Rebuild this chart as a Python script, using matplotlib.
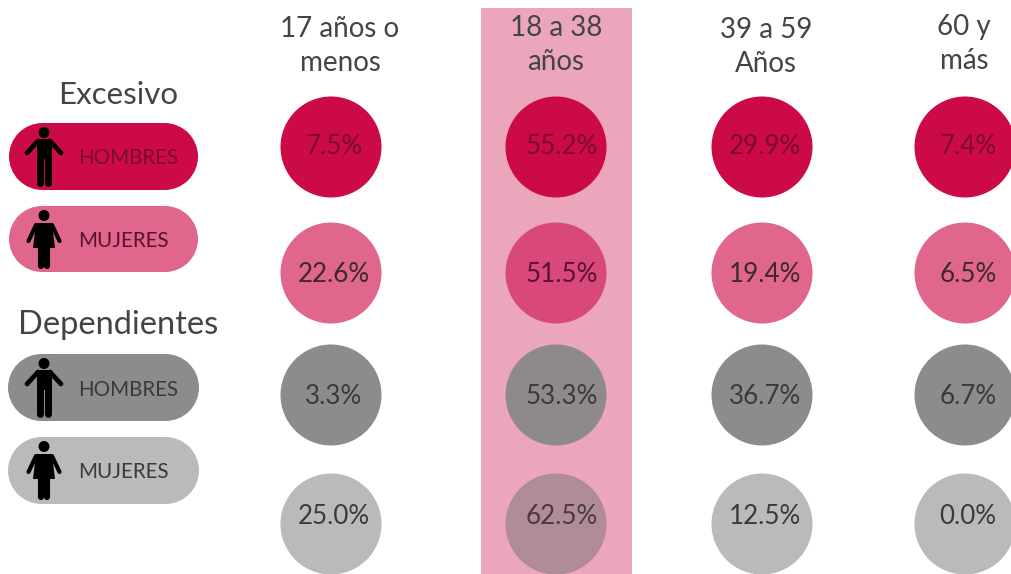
import matplotlib
matplotlib.use("Agg")
import matplotlib.pyplot as plt
from matplotlib.patches import Circle, Rectangle, Polygon

plt.rcParams['font.family'] = ['Lato', 'DejaVu Sans']

age_groups = ["17 años o\nmenos", "18 a 38\naños", "39 a 59\nAños", "60 y\nmás"]
excesivo_hombres = [7.5, 55.2, 29.9, 7.4]
excesivo_mujeres = [22.6, 51.5, 19.4, 6.5]
dependientes_hombres = [3.3, 53.3, 36.7, 6.7]
dependientes_mujeres = [25.0, 62.5, 12.5, 0.0]
legend_titles = ["Excesivo", "Dependientes"]
legend_labels = ["HOMBRES", "MUJERES", "HOMBRES", "MUJERES"]

series = [excesivo_hombres, excesivo_mujeres, dependientes_hombres, dependientes_mujeres]
row_y = [147, 273, 395, 524]
text_y = [147, 274, 396, 517]
col_x = [331, 556, 762, 965]
text_x = [334, 562, 765, 968]
row_col = ['#CC0A45', '#E0668C', '#8C8C8C', '#BABABA']
hi_col = ['#CC0A45', '#D8487A', '#8E8A8C', '#B08C98']
txt_col = ['#7A0A2E', '#3A2A30', '#3A3A3A', '#3A3A3A']
hi_txt = ['#7A0A2E', '#5A1030', '#3A3A3A', '#4A3A40']
R = 50.5

fig = plt.figure(figsize=(10.11, 5.74), dpi=100)
ax = fig.add_axes([0, 0, 1, 1])
ax.set_xlim(0, 1011)
ax.set_ylim(574, 0)
ax.axis('off')

ax.add_patch(Rectangle((481, 8), 151, 566, fc='#EBA6BC', ec='none', zorder=1))

head_pos = [(340, 46), (556, 45), (766, 47), (964, 44)]
for (x, y), lab in zip(head_pos, age_groups):
    ax.text(x, y, lab, ha='center', va='center', fontsize=20, color='#444444',
            linespacing=1.38, zorder=4)

for r, vals in enumerate(series):
    for c, v in enumerate(vals):
        hi = c == 1
        fc = hi_col[r] if hi else row_col[r]
        ax.add_patch(Circle((col_x[c], row_y[r]), R, fc=fc, ec='none', zorder=2))
        ax.text(text_x[c], text_y[r], f"{v:.1f}%", ha='center', va='center', fontsize=18.7,
                color=hi_txt[r] if hi else txt_col[r], zorder=3)


def man(cx, top):
    ax.add_patch(Circle((cx, top + 5.5), 5.5, fc='black', ec='none', zorder=4))
    ax.add_patch(Rectangle((cx - 7.5, top + 12), 15, 20, fc='black', ec='none', zorder=4))
    for sign in (-1, 1):
        ax.plot([cx + sign * 6, cx + sign * 17], [top + 14, top + 26], color='black', lw=3.4,
                solid_capstyle='round', zorder=4)
        ax.plot([cx + sign * 4.0, cx + sign * 4.0], [top + 28, top + 56], color='black', lw=5,
                solid_capstyle='round', zorder=4)


def woman(cx, top):
    ax.add_patch(Circle((cx, top + 5.5), 5.5, fc='black', ec='none', zorder=4))
    ax.add_patch(Polygon([(cx - 8, top + 13), (cx + 8, top + 13), (cx + 11, top + 38), (cx - 11, top + 38)],
                         closed=True, fc='black', ec='none', zorder=4))
    for sign in (-1, 1):
        ax.plot([cx + sign * 8, cx + sign * 15.5], [top + 15, top + 31], color='black', lw=3,
                solid_capstyle='round', zorder=4)
        ax.plot([cx + sign * 3.4, cx + sign * 3.4], [top + 36, top + 56], color='black', lw=4.4,
                solid_capstyle='round', zorder=4)


pills = [(9, 123, 189, 67), (9, 206, 189, 66), (8, 354, 191, 67), (8, 437, 191, 67)]
leg_txt = ['#7A0A2E', '#5A1030', '#3A3A3A', '#3A3A3A']
for i, (x, y, w, h) in enumerate(pills):
    rad = h / 2
    ax.add_patch(Circle((x + rad, y + rad), rad, fc=row_col[i], ec='none', zorder=2))
    ax.add_patch(Circle((x + w - rad, y + rad), rad, fc=row_col[i], ec='none', zorder=2))
    ax.add_patch(Rectangle((x + rad, y), w - 2 * rad, h, fc=row_col[i], ec='none', zorder=2))
    (man if i % 2 == 0 else woman)(44, y + 4)
    ax.text(78.5, y + h / 2 + 2, legend_labels[i], ha='left', va='center', fontsize=14.8,
            color=leg_txt[i], zorder=4)

ax.text(118, 95, legend_titles[0], ha='center', va='center', fontsize=22.5, color='#444444', zorder=4)
ax.text(118.5, 325, legend_titles[1], ha='center', va='center', fontsize=23.5, color='#444444', zorder=4)

fig.savefig("out.png", dpi=100)
